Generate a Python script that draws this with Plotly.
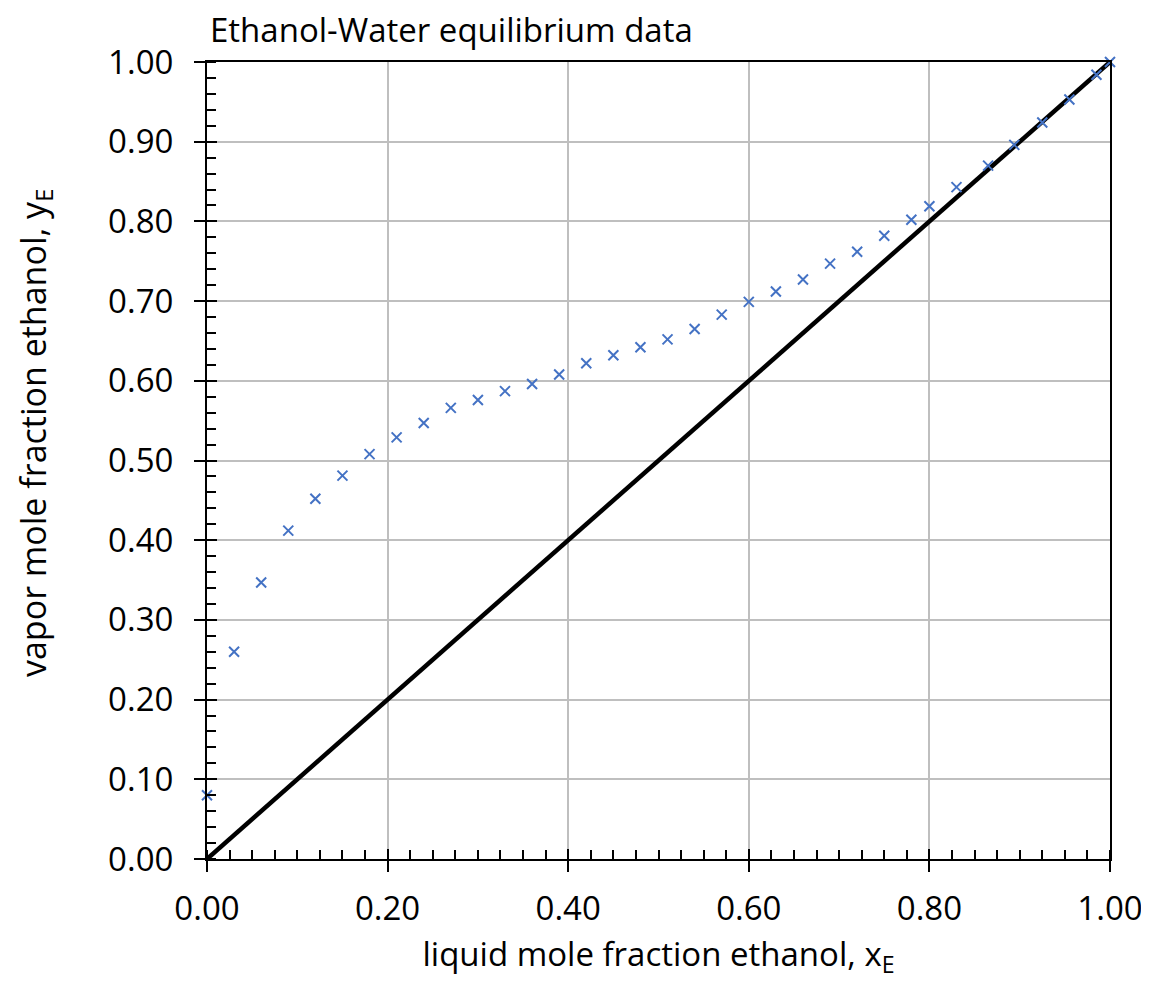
import plotly.graph_objects as go

# Equilibrium data
x_liquid = [0.0, 0.03, 0.06, 0.09, 0.12, 0.15, 0.18, 0.21, 0.24, 0.27, 0.30, 0.33, 0.36,
            0.39, 0.42, 0.45, 0.48, 0.51, 0.54, 0.57, 0.60, 0.63, 0.66, 0.69, 0.72,
            0.75, 0.78, 0.80, 0.83, 0.865, 0.894, 0.925, 0.955, 0.985, 1.0]
y_vapor = [0.080, 0.260, 0.347, 0.412, 0.452, 0.481, 0.508, 0.529, 0.547, 0.566, 0.576, 0.587, 0.596,
           0.608, 0.622, 0.632, 0.642, 0.652, 0.665, 0.683, 0.699, 0.712, 0.727, 0.747, 0.762,
           0.782, 0.802, 0.819, 0.843, 0.870, 0.896, 0.924, 0.953, 0.984, 1.0]
diag_x = [0.0, 1.0]
diag_y = [0.0, 1.0]

FONT = "Open Sans"
BLUE = "#4472C4"

fig = go.Figure()
fig.add_trace(go.Scatter(x=diag_x, y=diag_y, mode="lines",
                         line=dict(color="black", width=4.5),
                         showlegend=False, hoverinfo="skip"))
fig.add_trace(go.Scatter(x=x_liquid, y=y_vapor, mode="markers",
                         xaxis="x2", yaxis="y2",
                         marker=dict(symbol="x-thin", size=10,
                                     line=dict(color=BLUE, width=2)),
                         cliponaxis=False, showlegend=False))

tickfont = dict(family=FONT, size=33, color="black")

fig.update_layout(
    width=1149, height=981,
    paper_bgcolor="white", plot_bgcolor="white",
    margin=dict(l=199, r=47, t=54, b=130),
    title=dict(text="Ethanol-Water equilibrium data",
               font=dict(family=FONT, size=33, color="black"),
               x=0.1758, xanchor="left", xref="container",
               y=0.977, yanchor="middle", yref="container"),
    xaxis=dict(range=[0, 1], dtick=0.2, tickformat=".2f",
               showgrid=True, gridcolor="#BFBFBF", gridwidth=1.5,
               zeroline=False, showline=True, linecolor="black", linewidth=2,
               mirror=True,
               ticks="outside", ticklen=11, tickwidth=2, tickcolor="black",
               minor=dict(dtick=0.025, ticks="inside", ticklen=9, tickwidth=2,
                          tickcolor="black", showgrid=False),
               tickfont=tickfont, ticklabelstandoff=8,
               title=dict(text="liquid mole fraction ethanol, x<sub>E</sub>",
                          font=dict(family=FONT, size=33, color="black"),
                          standoff=14)),
    yaxis=dict(range=[0, 1], dtick=0.1, tickformat=".2f",
               showgrid=True, gridcolor="#BFBFBF", gridwidth=1.5,
               zeroline=False, showline=True, linecolor="black", linewidth=2,
               mirror=True,
               ticks="outside", ticklen=11, tickwidth=2, tickcolor="black",
               minor=dict(dtick=0.02, ticks="inside", ticklen=9, tickwidth=2,
                          tickcolor="black", showgrid=False),
               tickfont=tickfont, ticklabelstandoff=14),
    xaxis2=dict(range=[0, 1], dtick=0.2, overlaying="x", anchor="y", side="bottom",
                showgrid=False, zeroline=False, showline=False,
                ticks="inside", ticklen=10, tickwidth=2, tickcolor="black",
                showticklabels=False),
    yaxis2=dict(range=[0, 1], dtick=0.1, overlaying="y", anchor="x", side="left",
                showgrid=False, zeroline=False, showline=False,
                ticks="inside", ticklen=10, tickwidth=2, tickcolor="black",
                showticklabels=False),
    annotations=[dict(text="vapor mole fraction ethanol, y<sub>E</sub>",
                      font=dict(family=FONT, size=34, color="black"),
                      textangle=-90, showarrow=False,
                      xref="paper", x=0, xanchor="center", xshift=-172,
                      yref="paper", y=0.5345, yanchor="middle")],
)

fig.write_html("out.html")
